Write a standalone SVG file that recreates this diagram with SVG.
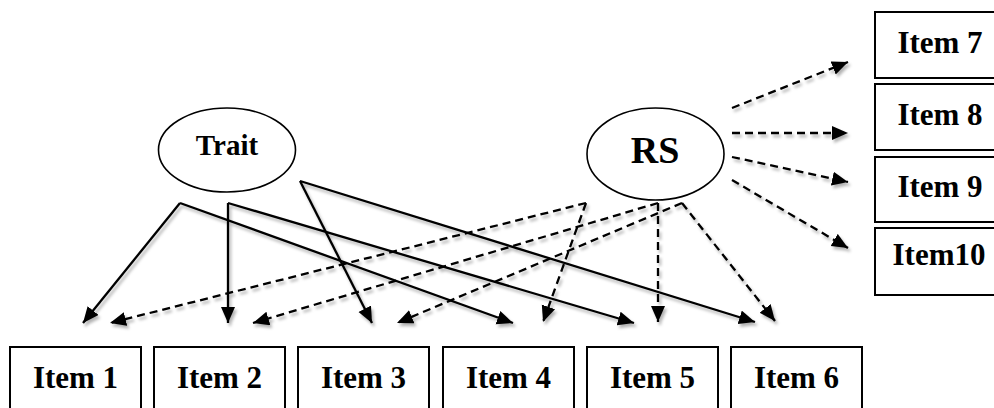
<svg xmlns="http://www.w3.org/2000/svg" width="994" height="408" viewBox="0 0 994 408">
<style>
.box{fill:#fff;stroke:#000;stroke-width:2}
.ell{fill:#fff;stroke:#000;stroke-width:1.6}
.t{font-family:"Liberation Serif","Times New Roman",serif;font-weight:bold;font-size:31px;text-anchor:middle;fill:#000}
.s{fill:none;stroke:#000;stroke-width:2.3;marker-end:url(#ah)}
.d{fill:none;stroke:#000;stroke-width:2.3;stroke-dasharray:8 5;marker-end:url(#ah)}
</style>
<defs>
<marker id="ah" markerUnits="userSpaceOnUse" markerWidth="17" markerHeight="15" refX="16" refY="7" orient="auto">
<path d="M0,0 L16,7 L0,14 z" fill="#000" stroke="none"/>
</marker>
<filter id="sh" x="-5%" y="-5%" width="110%" height="115%">
<feDropShadow dx="2" dy="3" stdDeviation="1.5" flood-color="#000" flood-opacity="0.3"/>
</filter>
</defs>
<g id="connectors" filter="url(#sh)">
<path class="s" d="M180,203 L83,323"/>
<path class="s" d="M180,203 L513,323"/>
<path class="s" d="M228,203 L228,323"/>
<path class="s" d="M228,203 L634,323"/>
<path class="s" d="M300,181 L372,323"/>
<path class="s" d="M300,181 L755,322"/>
<path class="d" d="M586,203 L110,323"/>
<path class="d" d="M586,203 L543,322"/>
<path class="d" d="M658,203 L253,323"/>
<path class="d" d="M658,203 L658,322"/>
<path class="d" d="M682,203 L397,323"/>
<path class="d" d="M682,203 L775,321"/>
<path class="d" d="M732,108 L848,62"/>
<path class="d" d="M732,133 L848,133"/>
<path class="d" d="M732,157 L848,182"/>
<path class="d" d="M732,180 L848,248"/>
</g>
<g id="trait"><ellipse class="ell" cx="227" cy="150" rx="68.5" ry="42"/><text class="t" x="227" y="155" style="font-size:29px">Trait</text></g>
<g id="rs"><ellipse class="ell" cx="655.5" cy="154" rx="68.5" ry="46"/><text class="t" x="655" y="163" style="font-size:38px">RS</text></g>
<g id="item1"><rect class="box" x="10" y="347" width="131" height="66"/><text class="t" x="75.5" y="388">Item 1</text></g>
<g id="item2"><rect class="box" x="154" y="347" width="131" height="66"/><text class="t" x="219.5" y="388">Item 2</text></g>
<g id="item3"><rect class="box" x="298" y="347" width="131" height="66"/><text class="t" x="363.5" y="388">Item 3</text></g>
<g id="item4"><rect class="box" x="443" y="347" width="131" height="66"/><text class="t" x="508.5" y="388">Item 4</text></g>
<g id="item5"><rect class="box" x="587" y="347" width="131" height="66"/><text class="t" x="652.5" y="388">Item 5</text></g>
<g id="item6"><rect class="box" x="731" y="347" width="131" height="66"/><text class="t" x="796.5" y="388">Item 6</text></g>
<g id="item7"><rect class="box" x="875" y="12" width="131" height="66"/><text class="t" x="940" y="53">Item 7</text></g>
<g id="item8"><rect class="box" x="875" y="84" width="131" height="66"/><text class="t" x="940" y="125">Item 8</text></g>
<g id="item9"><rect class="box" x="875" y="157" width="131" height="65"/><text class="t" x="940" y="197">Item 9</text></g>
<g id="item10"><rect class="box" x="875" y="228" width="131" height="67"/><text class="t" x="939" y="265">Item10</text></g>
</svg>
